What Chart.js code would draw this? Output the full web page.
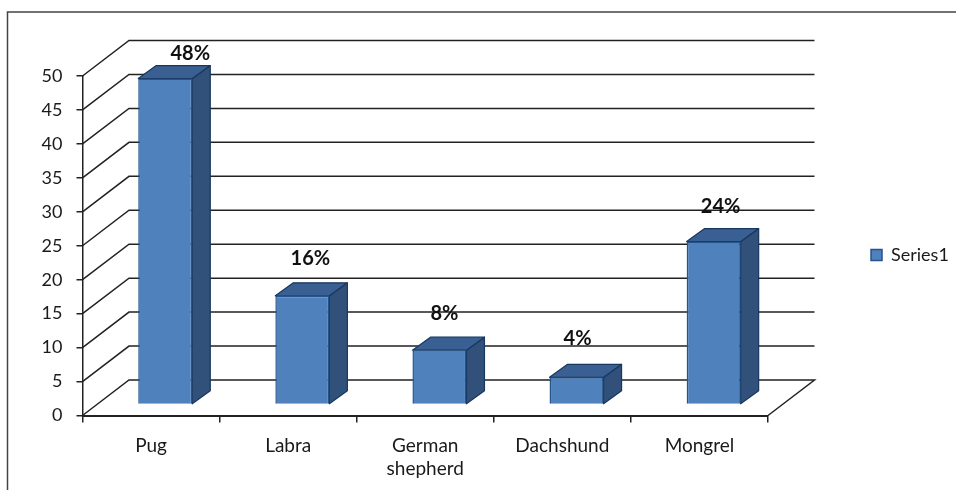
<!DOCTYPE html>
<html><head><meta charset="utf-8">
<style>html,body{margin:0;padding:0;background:#fff}#w{position:relative;width:956px;height:490px}</style>
<script src="https://cdn.jsdelivr.net/npm/chart.js@4"></script>
</head><body><div id="w"><canvas id="c" width="956" height="490"></canvas></div>
<script>
const categories = [['Pug'], ['Labra'], ['German', 'shepherd'], ['Dachshund'], ['Mongrel']];
const seriesName = 'Series1';
const counts = [48, 16, 8, 4, 24];
const percentLabels = ['48%', '16%', '8%', '4%', '24%'];
const yTickStep = 5;
const yMax = 50;

const DEPTH = {x: 46.5, y: 35.5};   // floor/wall depth
const BAR_SHIFT = {x: 14.2, y: 11}; // bars sit inside the floor
const BAR_DEPTH = {x: 18, y: 13};
const LABEL_OFFSET = [[25, -25], [8, -37], [5, -37], [1, -39], [7, -35]];
const LEGEND_SHIFT_Y = -28;
const INK = '#1a1a1a';

const box3d = {
  id: 'box3d',
  afterLayout(chart) {
    chart.legend.top += LEGEND_SHIFT_Y;
    chart.legend.bottom += LEGEND_SHIFT_Y;
  },
  beforeDraw(chart) {
    const c = chart.ctx;
    c.save();
    c.strokeStyle = '#444'; c.lineWidth = 1.5;
    c.beginPath(); c.moveTo(7.5, 490); c.lineTo(7.5, 12); c.lineTo(956, 12); c.stroke();
    c.restore();
  },
  beforeDatasetsDraw(chart) {
    const c = chart.ctx, y = chart.scales.y, a = chart.chartArea;
    c.save();
    c.strokeStyle = '#222'; c.lineWidth = 1.5;
    y.ticks.forEach(t => {
      const py = y.getPixelForValue(t.value);
      c.beginPath();
      c.moveTo(a.left, py);
      c.lineTo(a.left + DEPTH.x, py - DEPTH.y);
      c.lineTo(a.right + DEPTH.x, py - DEPTH.y);
      if (t.value === 0) c.lineTo(a.right, py);
      c.stroke();
    });
    c.restore();
    // side and top faces of the boxes, derived from the library's bar elements
    const bars = chart.getDatasetMeta(0).data;
    c.save();
    bars.forEach(b => {
      const l = b.x - b.width / 2 + BAR_SHIFT.x, r = b.x + b.width / 2 + BAR_SHIFT.x;
      const t = b.y - BAR_SHIFT.y, bt = b.base - BAR_SHIFT.y;
      c.lineJoin = 'round';
      c.lineWidth = 1.2;
      c.strokeStyle = '#17375e';
      c.fillStyle = '#31507a';
      c.beginPath();
      c.moveTo(r, t); c.lineTo(r + BAR_DEPTH.x, t - BAR_DEPTH.y);
      c.lineTo(r + BAR_DEPTH.x, bt - BAR_DEPTH.y); c.lineTo(r, bt); c.closePath();
      c.fill(); c.stroke();
      c.fillStyle = '#3a6093';
      c.beginPath();
      c.moveTo(l, t); c.lineTo(l + BAR_DEPTH.x, t - BAR_DEPTH.y);
      c.lineTo(r + BAR_DEPTH.x, t - BAR_DEPTH.y); c.lineTo(r, t); c.closePath();
      c.fill(); c.stroke();
    });
    c.restore();
  },
  beforeDatasetDraw(chart) {
    chart.ctx.save();
    chart.ctx.translate(BAR_SHIFT.x, -BAR_SHIFT.y);
  },
  afterDatasetDraw(chart) {
    chart.ctx.restore();
  },
  afterDatasetsDraw(chart) {
    const c = chart.ctx;
    c.save();
    c.font = 'bold 20px Lato';
    c.fillStyle = '#111';
    c.textAlign = 'center'; c.textBaseline = 'middle';
    chart.getDatasetMeta(0).data.forEach((b, i) => {
      const o = LABEL_OFFSET[i];
      c.fillText(percentLabels[i], b.x + BAR_SHIFT.x + o[0], b.y - BAR_SHIFT.y + o[1]);
    });
    c.restore();
  }
};

new Chart(document.getElementById('c'), {
  type: 'bar',
  plugins: [box3d],
  data: {
    labels: categories,
    datasets: [{
      label: seriesName,
      data: counts,
      backgroundColor: '#4f81bd',
      borderColor: '#24548c',
      borderWidth: 1.5,
      categoryPercentage: 1,
      barPercentage: 0.394
    }]
  },
  options: {
    responsive: false,
    animation: false,
    devicePixelRatio: 1,
    layout: {padding: {left: 0, right: 0, top: 76, bottom: 0}},
    plugins: {
      tooltip: {enabled: false},
      legend: {
        position: 'right',
        maxWidth: 188,
        labels: {
          boxWidth: 11, boxHeight: 11, padding: 103,
          color: INK, font: {family: 'Lato', size: 18}
        }
      }
    },
    scales: {
      x: {
        afterFit(s) { s.height = 74.5; },
        grid: {drawOnChartArea: false, drawTicks: true, tickLength: 7, color: '#222', lineWidth: 1.5},
        border: {color: '#222', width: 2},
        ticks: {autoSkip: false, maxRotation: 0, minRotation: 0, padding: 12, color: INK, font: {family: 'Lato', size: 19}}
      },
      y: {
        min: 0, max: yMax,
        afterFit(s) { s.width = 82.5; },
        grid: {drawOnChartArea: false, drawTicks: true, tickLength: 6, color: '#222', lineWidth: 1.5},
        border: {color: '#222', width: 1.5},
        ticks: {stepSize: yTickStep, padding: 14, color: INK, font: {family: 'Lato', size: 18}}
      }
    }
  }
});
</script></body></html>
